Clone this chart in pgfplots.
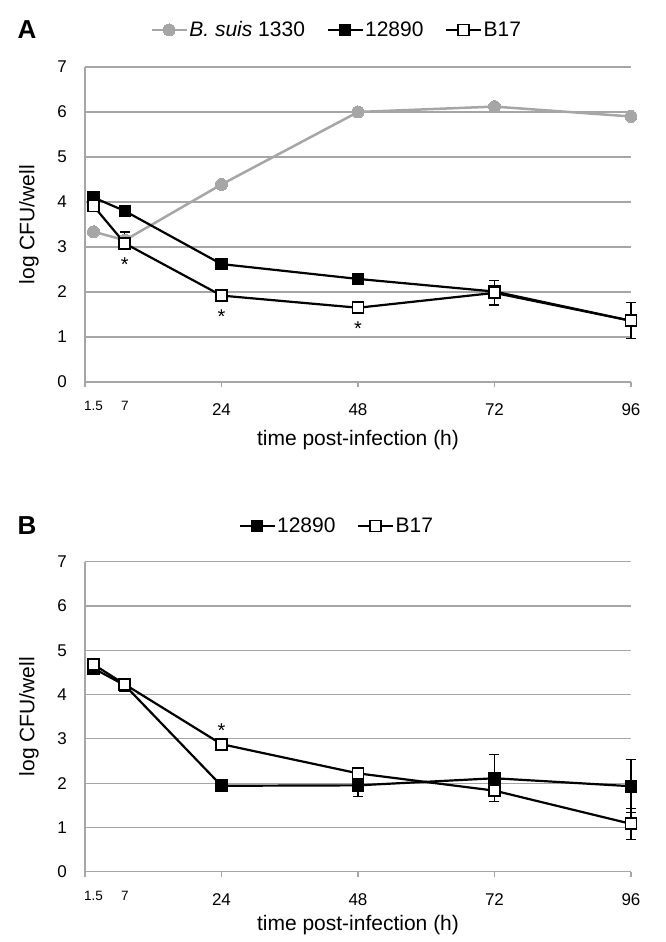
\documentclass[border=0pt]{standalone}
\usepackage{fontspec}
\setmainfont{Liberation Sans}
\usepackage{pgfplots}
\usepackage{pgfplotstable}
\pgfplotsset{compat=1.18}

\definecolor{gridgray}{RGB}{166,166,166}
\definecolor{sergray}{RGB}{166,166,166}

% panel A
\pgfplotstableread{
x    y    ep   em
1.5  3.34 0    0
7    3.15 0    0
24   4.39 0    0
48   6.00 0    0
72   6.12 0    0
96   5.90 0    0
}\Asuis
\pgfplotstableread{
x    y    ep   em
1.5  4.10 0    0
7    3.80 0    0
24   2.62 0    0
48   2.29 0.10 0.10
72   2.01 0    0
96   1.36 0    0
}\Aone
\pgfplotstableread{
x    y    ep   em
1.5  3.91 0    0
7    3.08 0.25 0
24   1.92 0    0
48   1.65 0    0
72   1.98 0.27 0.27
96   1.36 0.40 0.40
}\Atwo
% panel B
\pgfplotstableread{
x    y    ep   em
1.5  4.59 0    0
7    4.21 0    0
24   1.94 0.05 0.05
48   1.95 0.25 0.25
72   2.11 0.53 0.53
96   1.93 0.60 0.60
}\Bone
\pgfplotstableread{
x    y    ep   em
1.5  4.68 0    0
7    4.23 0    0
24   2.88 0    0
48   2.22 0.14 0.14
72   1.83 0.25 0.25
96   1.08 0.35 0.35
}\Btwo

\pgfplotsset{
  cfu/.style={
    scale only axis, width=546pt, clip=false,
    xmin=0, xmax=96, ymin=0, ymax=7,
    axis x line*=bottom, axis y line*=left,
    axis line style={gridgray, line width=1.3pt},
    xtick={0,24,48,72,96}, xticklabels={,24,48,72,96},
    extra x ticks={1.5,7}, extra x tick labels={1.5,7},
    extra x tick style={grid=none, major tick length=0pt,
      xticklabel style={font=\fontsize{13.5}{15}\selectfont}},
    ytick={0,...,7},
    ymajorgrids, grid style={gridgray, line width=1.2pt},
    tick align=outside, major tick length=5pt,
    xtick style={gridgray, line width=1.3pt},
    ytick style={draw=none},
    xticklabel style={anchor=base, yshift=-29pt, font=\fontsize{17}{20}\selectfont},
    yticklabel style={anchor=east, inner sep=0pt, xshift=-13pt, font=\fontsize{17}{20}\selectfont},
    /pgf/number format/assume math mode=true,
    label style={font=\fontsize{21}{24}\selectfont},
    ylabel={log CFU/well},
    ylabel style={at={(axis description cs:0,0.5)}, anchor=center, yshift=56pt},
    xlabel={time post-infection (h)},
    legend style={draw=none, fill=none, legend columns=-1,
      font=\fontsize{21}{24}\selectfont, nodes={inner sep=1.5pt},
      /tikz/every even column/.append style={column sep=20pt}, anchor=center},
    legend image code/.code={\draw[mark repeat=2, mark phase=2, #1]
      plot coordinates {(0pt,0pt) (17.5pt,0pt) (35pt,0pt)};},
    legend cell align=left,
  },
  sgray/.style={sergray, line width=2.5pt, mark=*, mark size=6pt,
    mark options={fill=sergray, draw=sergray, line width=0pt}},
  sone/.style={black, line width=2.2pt, mark=square*, mark size=5.5pt,
    mark options={fill=black, draw=black, line width=1.6pt}},
  stwo/.style={black, line width=2.2pt, mark=square*, mark size=5.5pt,
    mark options={fill=white, draw=black, line width=1.8pt}},
  ebars/.style={error bars/.cd, y dir=both, y explicit,
    error bar style={black, line width=1.3pt},
    error mark options={black, rotate=90, mark size=5pt, line width=1.3pt}},
}

\begin{document}
\begin{tikzpicture}
\useasboundingbox (0,0) rectangle (666pt,942pt);

\begin{axis}[cfu, at={(85pt,560pt)}, anchor=south west, height=315pt,
  xlabel style={at={(axis description cs:0.5,0)}, anchor=center, yshift=-58pt},
  legend style={at={(axis description cs:0.4606,1.1175)}}]
\addplot[sgray] table[x=x,y=y] {\Asuis};
\addlegendentry{\textit{B. suis} 1330}
\addplot[sone, ebars] table[x=x,y=y,y error plus=ep,y error minus=em] {\Aone};
\addlegendentry{12890}
\addplot[stwo, ebars] table[x=x,y=y,y error plus=ep,y error minus=em] {\Atwo};
\addlegendentry{B17}
\node[font=\fontsize{20}{20}\selectfont, anchor=base] at (axis cs:7,2.45) {*};
\node[font=\fontsize{20}{20}\selectfont, anchor=base] at (axis cs:24,1.30) {*};
\node[font=\fontsize{20}{20}\selectfont, anchor=base] at (axis cs:48,1.03) {*};
\node[font=\bfseries\fontsize{26}{28}\selectfont] at (axis description cs:-0.106,1.1175) {A};
\end{axis}

\begin{axis}[cfu, at={(85pt,70.3pt)}, anchor=south west, height=310pt,
  xlabel style={at={(axis description cs:0.5,0)}, anchor=center, yshift=-53pt},
  legend style={at={(axis description cs:0.4606,1.115)}}]
\addplot[sone, ebars] table[x=x,y=y,y error plus=ep,y error minus=em] {\Bone};
\addlegendentry{12890}
\addplot[stwo, ebars] table[x=x,y=y,y error plus=ep,y error minus=em] {\Btwo};
\addlegendentry{B17}
\node[font=\fontsize{20}{20}\selectfont, anchor=base] at (axis cs:24,3.03) {*};
\node[font=\bfseries\fontsize{26}{28}\selectfont] at (axis description cs:-0.106,1.115) {B};
\end{axis}
\end{tikzpicture}
\end{document}
